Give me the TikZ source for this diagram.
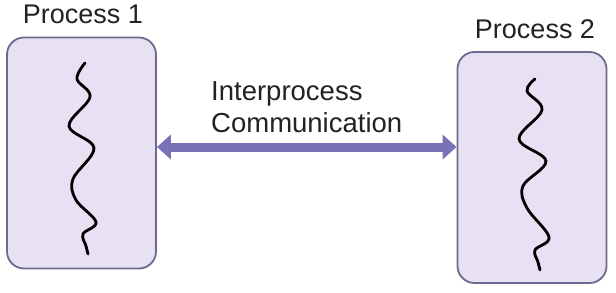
\documentclass[tikz,border=0pt]{standalone}
\usepackage{fontspec}
\setmainfont{Liberation Sans}
\usetikzlibrary{arrows.meta}
\definecolor{boxfill}{HTML}{E7E1F3}
\definecolor{boxline}{HTML}{6E6A8E}
\definecolor{ipcarrow}{HTML}{7A72B6}
\definecolor{inktext}{HTML}{222222}
\tikzset{
  procbox/.style={draw=boxline, line width=1.8pt, fill=boxfill, rounded corners=17pt,
    minimum width=149pt, minimum height=231pt, inner sep=0pt},
  proclabel/.style={font=\fontsize{27}{30}\selectfont, text=inktext, inner sep=0pt, anchor=base},
  thread/.style={black, line width=2.8pt, line cap=round},
  ipc/.style={ipcarrow, line width=9pt,
    {Triangle[length=14pt,width=24pt]}-{Triangle[length=14pt,width=24pt]}}
}
\begin{document}
\begin{tikzpicture}[x=1pt,y=-1pt]
  \useasboundingbox (0,0) rectangle (616,292);
  % process boxes
  \node[procbox] (p1) at (81.5,153) {};
  \node[procbox] (p2) at (532,167.5) {};
  % titles
  \node[proclabel] (t1) at (83,23) {Process 1};
  \node[proclabel] (t2) at (535,38) {Process 2};
  % threads of execution
  \draw[thread] plot[smooth, tension=0.6] coordinates {(85,63) (77,79) (90,97) (69,126) (94,148)
    (73,179) (76,200) (96,222) (83,234) (86,246) (88,254)};
  \draw[thread] plot[smooth, tension=0.6] coordinates {(535,79) (527,91) (542,110) (519,139) (546,161)
    (523,186) (527,208) (549,237) (535,250) (538,262) (540,270)};
  % communication channel
  \draw[ipc] ([yshift=6pt]p1.east) -- ([yshift=6pt]p2.west |- p1.east);
  \node[font=\fontsize{27.5}{32}\selectfont, text=inktext, align=left, anchor=base west, inner sep=0pt]
    (ipclabel) at (211,132) {Interprocess\\Communication};
\end{tikzpicture}
\end{document}
